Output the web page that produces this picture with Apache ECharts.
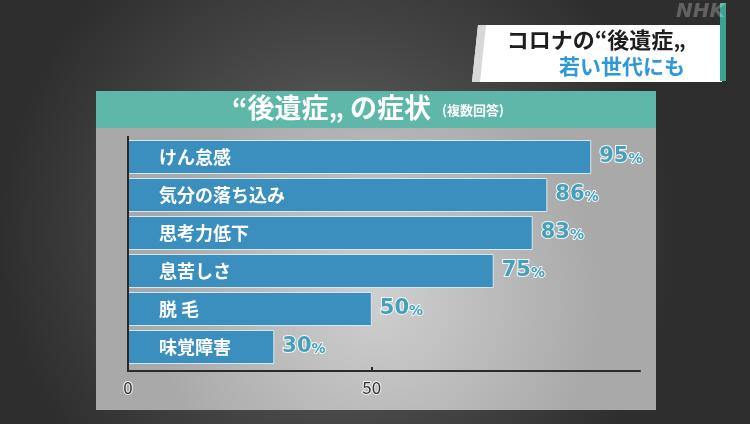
<!DOCTYPE html>
<html>
<head>
<meta charset="utf-8">
<script src="https://cdn.jsdelivr.net/npm/echarts@6/dist/echarts.min.js"></script>
<style>html,body{margin:0;padding:0;background:#3a3a3a;}#c{width:750px;height:424px;}</style>
</head>
<body>
<div id="c"></div>
<script>
const categories = ['けん怠感', '気分の落ち込み', '思考力低下', '息苦しさ', '脱 毛', '味覚障害'];
const values = [95, 86, 83, 75, 50, 30];
const xTicks = [0, 50];
const chartTitle = '“後遺症„ の症状';
const chartSubtitle = '(複数回答)';
const boxLine1 = 'コロナの“後遺症„';
const boxLine2 = '若い世代にも';

const FONT = '"Noto Sans CJK JP", "Noto Sans", sans-serif';
const chart = echarts.init(document.getElementById('c'));

const catsRev = categories.slice().reverse();
const valsRev = values.slice().reverse();

chart.setOption({
  backgroundColor: {
    type: 'radial', x: 0.45, y: 0.55, r: 0.8,
    colorStops: [{offset: 0, color: '#6a6a6a'}, {offset: 0.6, color: '#444'}, {offset: 1, color: '#2e2e2e'}]
  },
  animation: false,
  graphic: [
    {type: 'rect', z: -10, shape: {x: 96, y: 128, width: 560, height: 282},
     style: {fill: {type: 'radial', x: 0.5, y: 0.6, r: 0.8,
       colorStops: [{offset: 0, color: '#cfcfcf'}, {offset: 1, color: '#a9a9a9'}]}}},
    {type: 'rect', z: -9, shape: {x: 96, y: 91, width: 560, height: 37}, style: {fill: '#5fb7a9'}},
    {type: 'text', z: 5, left: 232, top: 94,
     style: {text: chartTitle, font: 'bold 27px ' + FONT, fill: '#ffffff'}},
    {type: 'text', z: 5, left: 442, top: 104,
     style: {text: chartSubtitle, font: 'bold 13px ' + FONT, fill: '#ffffff'}},
    {type: 'polygon', z: -8, shape: {points: [[478, 25], [722, 25], [722, 82], [472, 82]]}, style: {fill: '#ffffff'}},
    {type: 'polygon', z: -7, shape: {points: [[478, 25], [486, 25], [480, 82], [472, 82]]}, style: {fill: '#d8d8d8'}},
    {type: 'rect', z: -7, shape: {x: 720, y: 3, width: 6, height: 78}, style: {fill: '#3aa58e'}},
    {type: 'text', z: 5, right: 64, top: 29,
     style: {text: boxLine1, font: 'bold 22px ' + FONT, fill: '#1e1e1e', textAlign: 'right'}},
    {type: 'text', z: 5, right: 65, top: 56,
     style: {text: boxLine2, font: 'bold 21px ' + FONT, fill: '#2f98d6', textAlign: 'right'}},
    {type: 'text', z: 5, left: 676, top: 2,
     style: {text: 'NHK', font: 'italic bold 20px "DejaVu Sans", sans-serif', fill: 'rgba(255,255,255,0.25)'}},
    {type: 'line', z: 10, shape: {x1: 128, y1: 136, x2: 128, y2: 372}, style: {stroke: '#2a2a2a', lineWidth: 2}}
  ],
  grid: {left: 128, top: 138, width: 512, height: 228, containLabel: false},
  xAxis: {
    type: 'value', min: 0, max: 105, interval: 50, offset: 5,
    axisLine: {show: true, lineStyle: {color: '#2a2a2a', width: 2}},
    axisTick: {show: true, inside: true, length: 4, customValues: xTicks, lineStyle: {color: '#2a2a2a', width: 2}},
    splitLine: {show: false},
    axisLabel: {
      customValues: xTicks,
      margin: 8, fontSize: 17, fontFamily: FONT, color: '#333', textBorderColor: '#f0f0f0', textBorderWidth: 2
    }
  },
  yAxis: {
    type: 'category', data: catsRev,
    axisLine: {show: false}, axisTick: {show: false},
    axisLabel: {show: false}
  },
  series: [
    {
      type: 'bar', data: valsRev, barWidth: 34, z: 2,
      itemStyle: {color: '#3b8fbf', borderColor: '#d6e8ef', borderWidth: 1},
      label: {
        show: true, position: 'insideLeft', distance: 31,
        formatter: '{b}', color: '#ffffff', fontSize: 18, fontWeight: 'bold', fontFamily: FONT
      }
    },
    {
      type: 'bar', data: valsRev, barWidth: 34, barGap: '-100%', z: 3,
      itemStyle: {color: 'rgba(0,0,0,0)'},
      label: {
        show: true, position: 'right', distance: 8,
        formatter: '{n|{c}}{p|%}',
        rich: {
          n: {fontSize: 21, fontWeight: 'bold', fontFamily: '"DejaVu Sans", sans-serif', color: '#4a9fb8', textBorderColor: '#eef8fb', textBorderWidth: 2},
          p: {fontSize: 14, fontWeight: 'bold', fontFamily: '"DejaVu Sans", sans-serif', color: '#4a9fb8', textBorderColor: '#eef8fb', textBorderWidth: 2, padding: [4, 0, 0, 0]}
        }
      }
    }
  ]
});
</script>
</body>
</html>
